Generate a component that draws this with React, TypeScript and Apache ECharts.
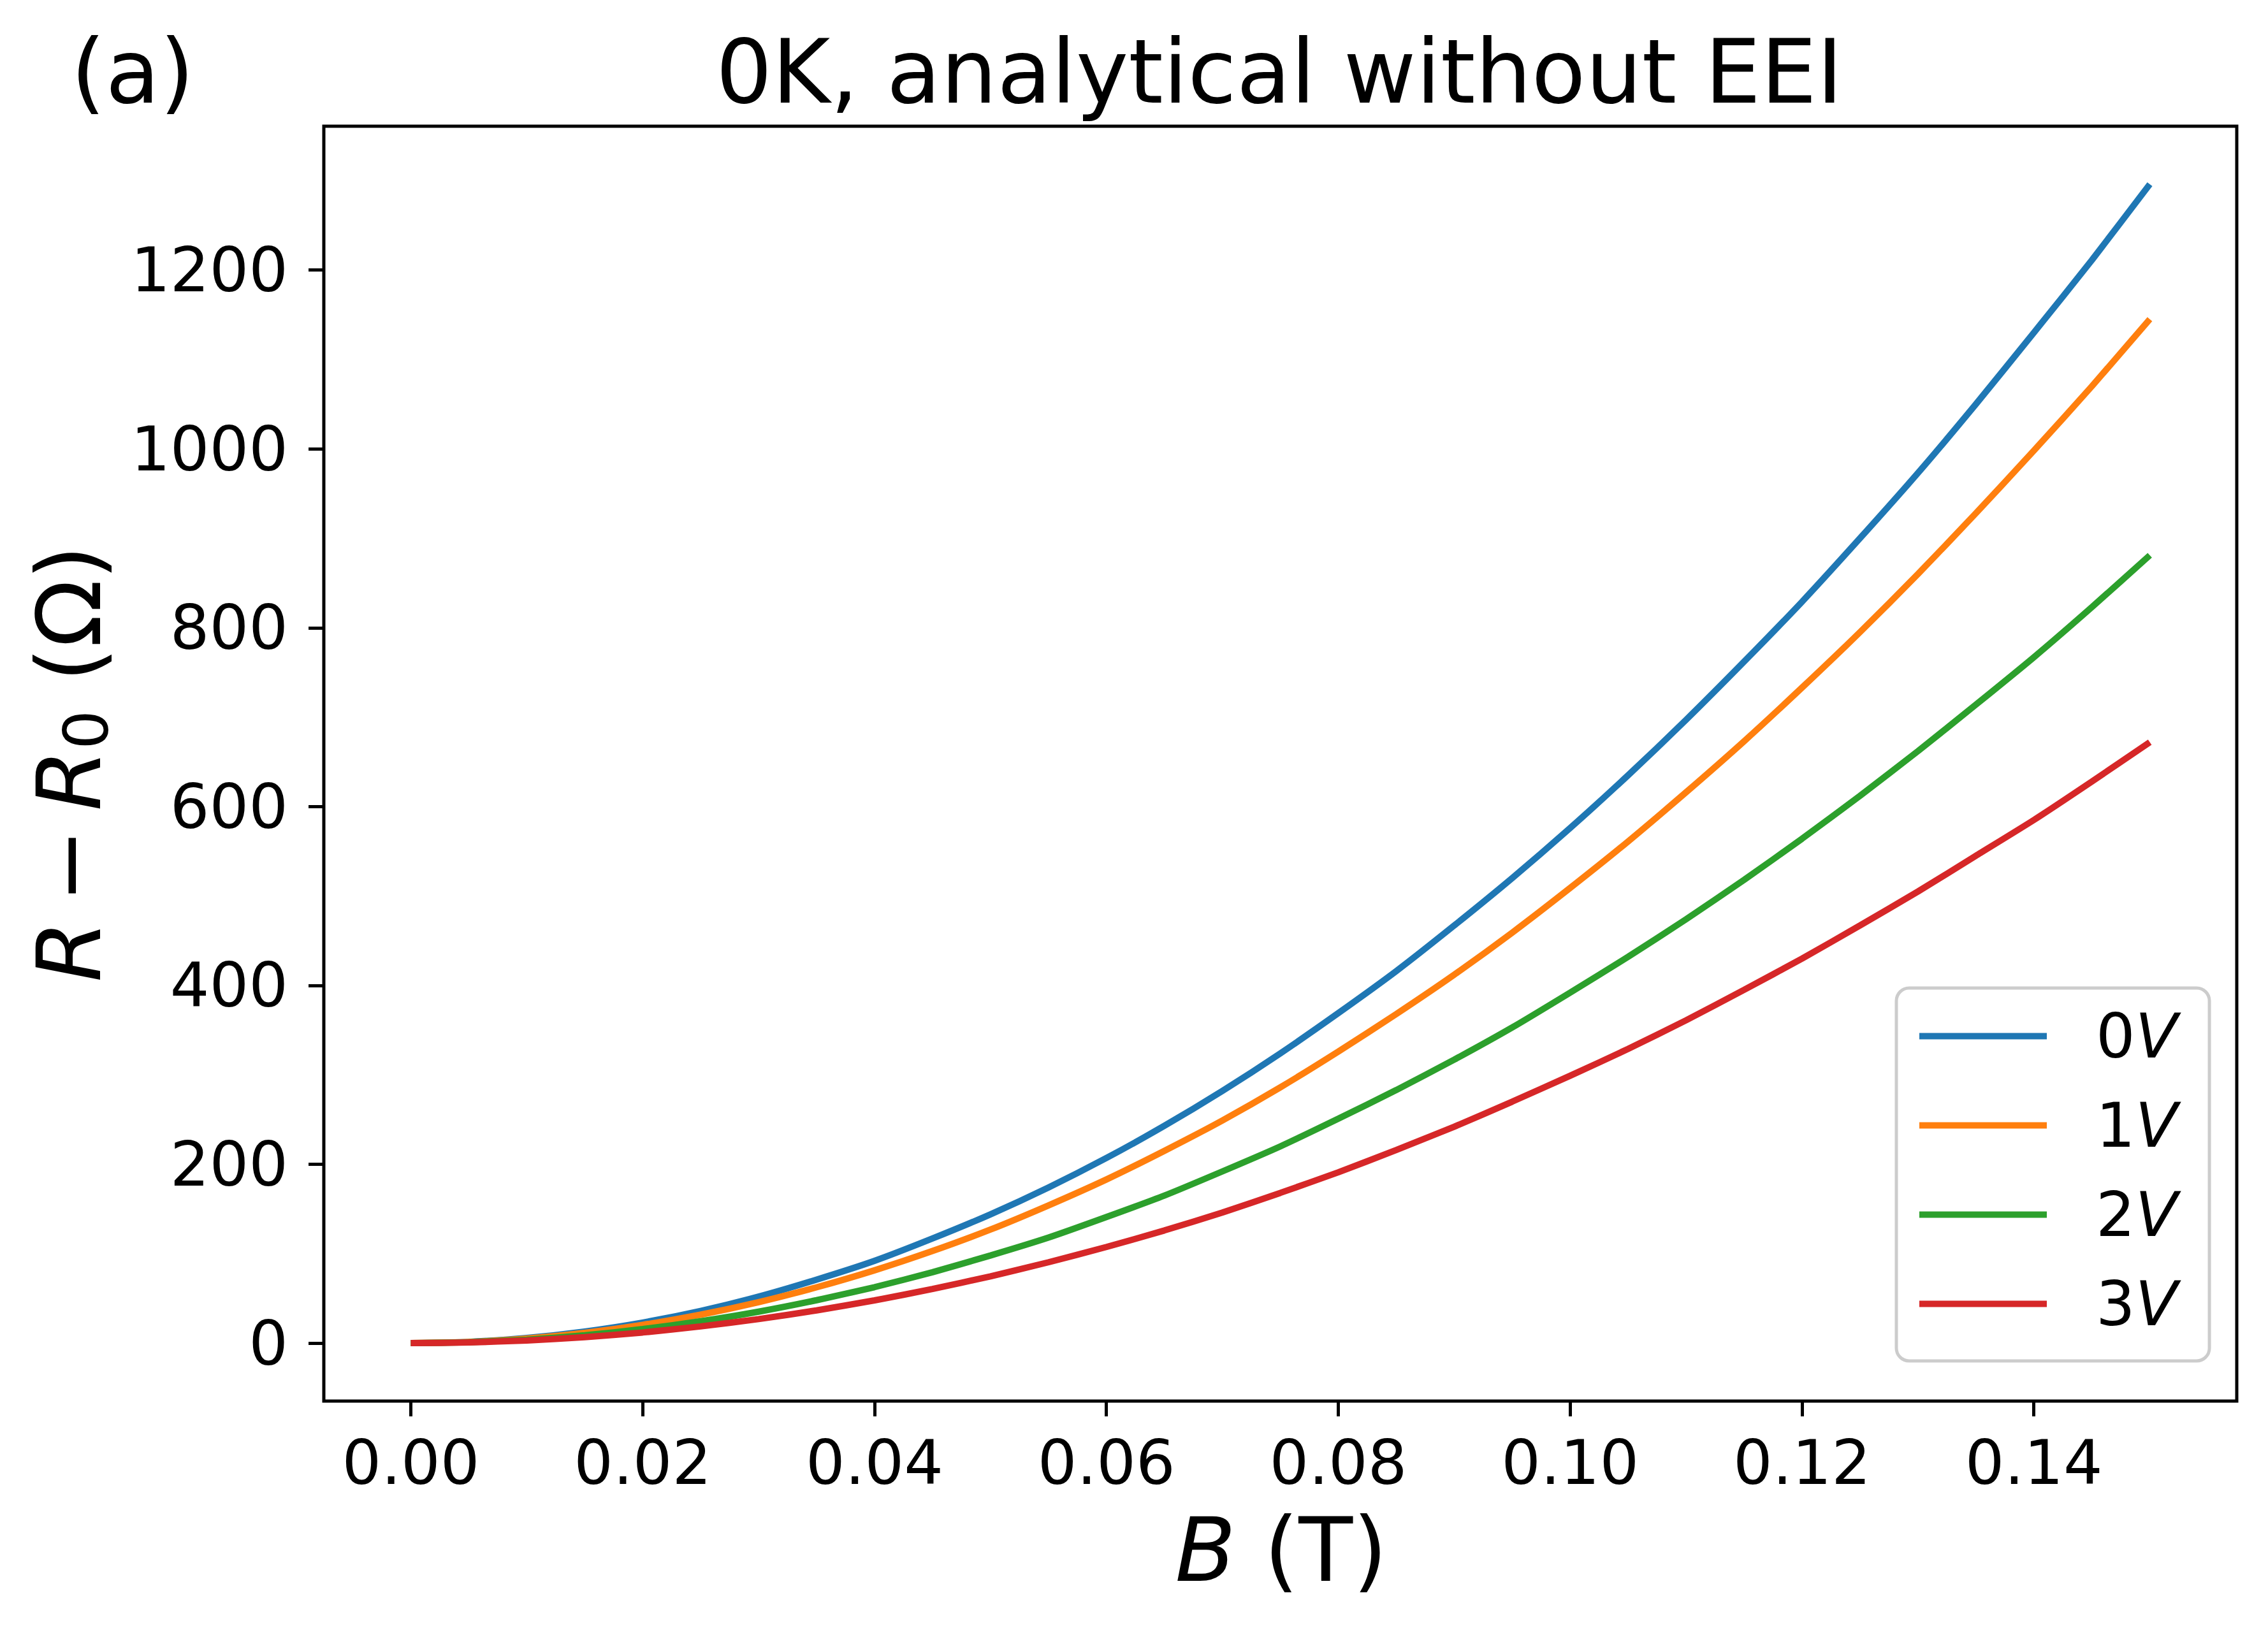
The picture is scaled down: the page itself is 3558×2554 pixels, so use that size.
import React, { useEffect, useRef } from "react";
import * as echarts from "echarts";

const B_VALUES = [
  0, 0.005, 0.01, 0.015, 0.02, 0.025, 0.03, 0.035, 0.04, 0.045, 0.05, 0.055, 0.06, 0.065, 0.07, 0.075,
  0.08, 0.085, 0.09, 0.095, 0.1, 0.105, 0.11, 0.115, 0.12, 0.125, 0.13, 0.135, 0.14, 0.145, 0.15,
];
const R_0V = [
  0, 1.4, 5.8, 13, 23, 36, 52, 71, 92, 117, 144, 174, 207, 243, 282, 324, 369, 416, 467, 520, 576, 635,
  697, 762, 829, 900, 973, 1050, 1130, 1211, 1296,
];
const R_1V = [
  0, 1.3, 5.1, 11.5, 20.4, 31.8, 45.8, 62.4, 81.4, 103, 127, 154, 183, 215, 249, 286, 326, 368, 412, 459,
  509, 561, 616, 673, 733, 795, 860, 928, 998, 1070, 1145,
];
const R_2V = [
  0, 1.0, 3.9, 8.8, 15.7, 24.5, 35.2, 48, 62.6, 79.3, 98, 118, 141, 165, 192, 220, 251, 283, 317, 353, 392,
  432, 474, 518, 564, 612, 662, 714, 767, 823, 881,
];
const R_3V = [
  0, 0.75, 3.0, 6.7, 11.9, 18.7, 26.9, 36.6, 47.8, 60.5, 74.7, 90.4, 107.5, 126, 146, 168, 191, 216, 242,
  270, 299, 329, 361, 395, 430, 467, 505, 545, 585, 628, 672,
];
const SERIES_NAMES = ["0V", "1V", "2V", "3V"];
const SERIES_COLORS = ["#1f77b4", "#ff7f0e", "#2ca02c", "#d62728"];
const X_TICKS = [0, 0.02, 0.04, 0.06, 0.08, 0.1, 0.12, 0.14];
const Y_TICKS = [0, 200, 400, 600, 800, 1000, 1200];

const FONT = "DejaVu Sans";

export default function App() {
  const ref = useRef<HTMLDivElement>(null);
  useEffect(() => {
    if (!ref.current) return;
    const chart = echarts.init(ref.current, null, { renderer: "svg" });
    const all = [R_0V, R_1V, R_2V, R_3V];
    const series = all.map((vals, i) => ({
      name: SERIES_NAMES[i],
      type: "line",
      data: B_VALUES.map((b, j) => [b, vals[j]]),
      showSymbol: false,
      symbol: "none",
      smooth: 0.2,
      lineStyle: { color: SERIES_COLORS[i], width: 10 },
      itemStyle: { color: SERIES_COLORS[i] },
      z: 3 + i,
    }));
    chart.setOption({
      animation: false,
      backgroundColor: "#ffffff",
      grid: {
        left: 508,
        right: 49,
        top: 198,
        bottom: 356,
        show: true,
        borderColor: "#000000",
        borderWidth: 5,
        backgroundColor: "transparent",
      },
      xAxis: {
        type: "value",
        min: -0.0075,
        max: 0.1575,
        axisLine: { show: false, onZero: false },
        splitLine: { show: false },
        axisTick: {
          show: true,
          customValues: X_TICKS,
          length: 24,
          inside: false,
          lineStyle: { color: "#000", width: 5 },
        },
        axisLabel: {
          customValues: X_TICKS,
          formatter: (v: number) => v.toFixed(2),
          fontFamily: FONT,
          fontSize: 97,
          color: "#000",
          margin: 48,
        },
      },
      yAxis: {
        type: "value",
        min: -64.8,
        max: 1360.8,
        axisLine: { show: false, onZero: false },
        splitLine: { show: false },
        axisTick: {
          show: true,
          customValues: Y_TICKS,
          length: 24,
          inside: false,
          lineStyle: { color: "#000", width: 5 },
        },
        axisLabel: {
          customValues: Y_TICKS,
          formatter: (v: number) => String(v),
          fontFamily: FONT,
          fontSize: 97,
          color: "#000",
          margin: 56,
        },
      },
      legend: {
        orient: "vertical",
        left: 2975,
        top: 1550,
        padding: [27, 50, 41, 36],
        itemGap: 43,
        itemWidth: 200,
        itemHeight: 10,
        icon: "rect",
        borderColor: "#cccccc",
        borderWidth: 5,
        borderRadius: 20,
        backgroundColor: "rgba(255,255,255,0.8)",
        data: SERIES_NAMES,
        formatter: (name: string) => `{n|${name.slice(0, -1)}}{v|V}`,
        textStyle: {
          fontFamily: FONT,
          fontSize: 97,
          color: "#000",
          rich: {
            n: { fontFamily: FONT, fontSize: 97, color: "#000", padding: [0, 0, 0, 72], lineHeight: 100 },
            v: { fontFamily: FONT, fontSize: 97, color: "#000", fontStyle: "italic", lineHeight: 100 },
          },
        },
      },
      graphic: [
        {
          type: "text",
          x: 2007,
          y: 113,
          style: {
            text: "0K, analytical without EEI",
            fontFamily: FONT,
            fontSize: 139,
            fill: "#000",
            align: "center",
            verticalAlign: "middle",
          },
        },
        {
          type: "text",
          x: 208,
          y: 113,
          style: {
            text: "(a)",
            fontFamily: FONT,
            fontSize: 139,
            fill: "#000",
            align: "center",
            verticalAlign: "middle",
          },
        },
        {
          type: "text",
          x: 2010,
          y: 2432,
          style: {
            text: "{i|B}{m| (T)}",
            fontFamily: FONT,
            fontSize: 139,
            fill: "#000",
            align: "center",
            verticalAlign: "middle",
            rich: {
              i: { fontFamily: FONT, fontSize: 139, fontStyle: "italic", fill: "#000" },
              m: { fontFamily: FONT, fontSize: 139, fill: "#000" },
            },
          },
        },
        {
          type: "text",
          x: 109,
          y: 1198,
          rotation: Math.PI / 2,
          style: {
            text: "{i|R}{m|\u2009−\u2009}{i|R}{s|0}{m| (Ω)}",
            fontFamily: FONT,
            fontSize: 139,
            fill: "#000",
            align: "center",
            verticalAlign: "middle",
            rich: {
              i: { fontFamily: FONT, fontSize: 139, fontStyle: "italic", fill: "#000", lineHeight: 150 },
              m: { fontFamily: FONT, fontSize: 139, fill: "#000", lineHeight: 150 },
              s: { fontFamily: FONT, fontSize: 97, fill: "#000", lineHeight: 90, verticalAlign: "bottom" },
            },
          },
        },
      ],
      series,
    });
    return () => chart.dispose();
  }, []);
  return (
    <div
      ref={ref}
      style={{ position: "fixed", left: 0, top: 0, width: 3558, height: 2554, background: "#fff" }}
    />
  );
}
